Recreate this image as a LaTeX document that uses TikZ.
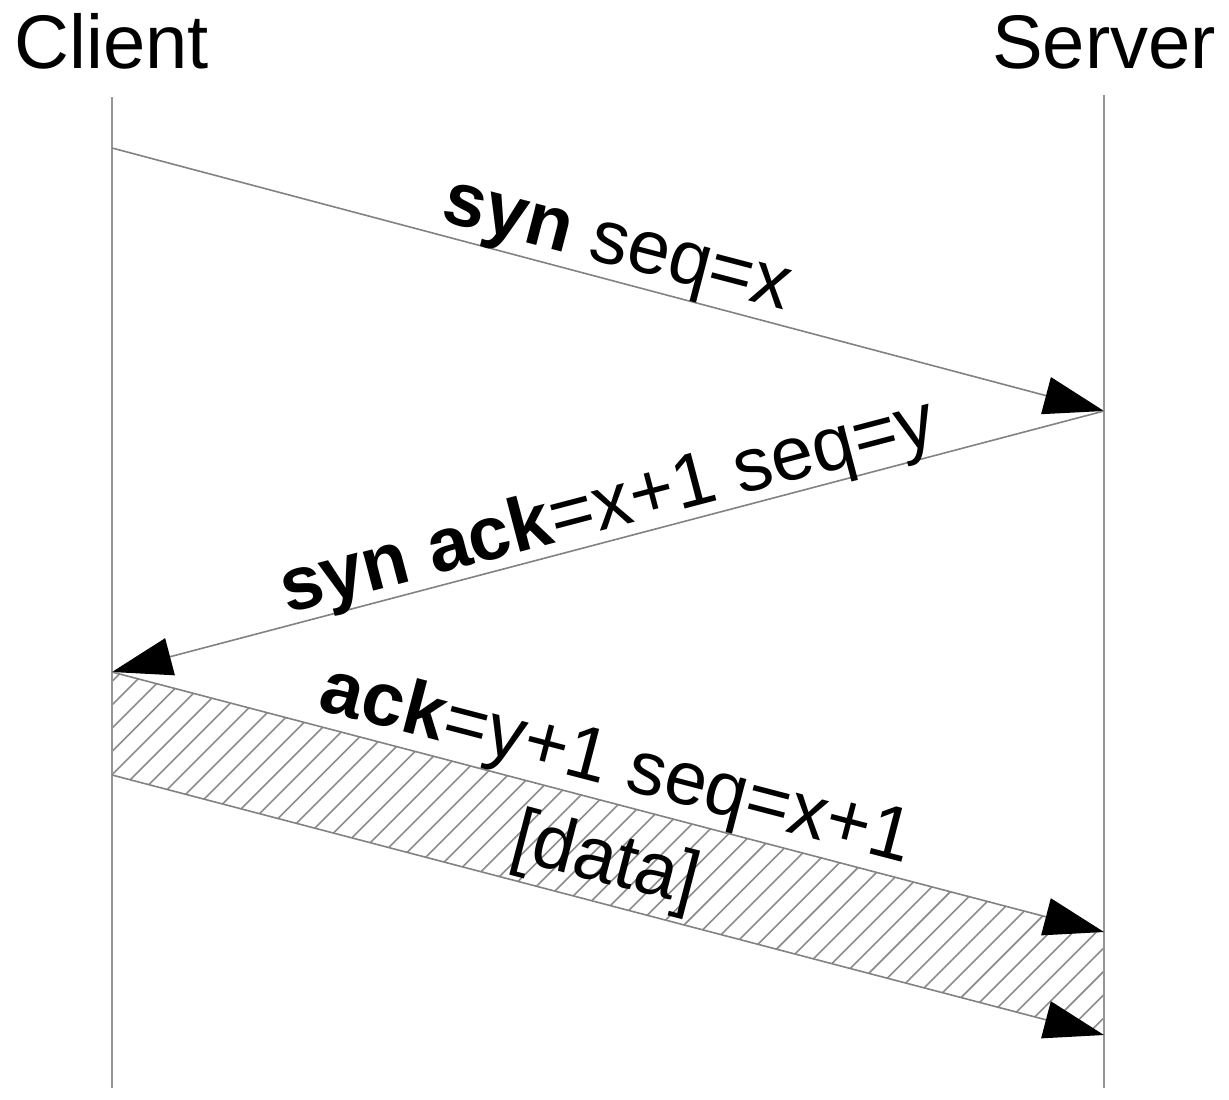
\documentclass[tikz,border=0pt]{standalone}
\usepackage{fontspec}
\setmainfont{Liberation Sans}
\usetikzlibrary{arrows.meta}
\definecolor{msggray}{RGB}{130,130,130}
\definecolor{lifegray}{RGB}{150,150,150}
\definecolor{hatchgray}{RGB}{140,140,140}
\tikzset{
  lifeline/.style={draw=lifegray, line width=2pt},
  msg/.style={draw=msggray, line width=1.6pt,
    -{Triangle[length=60pt,width=38pt,color=black]}},
  title/.style={font=\fontsize{76}{80}\selectfont, inner sep=0pt, anchor=base},
  lbl/.style={font=\fontsize{76}{80}\selectfont, inner sep=0pt, anchor=base},
  hatch/.style={draw=hatchgray, line width=1.6pt},
}
\begin{document}
\begin{tikzpicture}[x=1pt, y=-1pt]
  \useasboundingbox (0,0) rectangle (1229,1100);

  % participants
  \node[title] (client) at (112,68) {Client};
  \node[title] (server) at (1104,68) {Server};

  % lifeline ends
  \coordinate (cTop) at (112,97);
  \coordinate (cBot) at (112,1088);
  \coordinate (sTop) at (1104,95);
  \coordinate (sBot) at (1104,1088);

  % message end points on the lifelines
  \coordinate (c1) at (112,148);
  \coordinate (s1) at (1104,411);
  \coordinate (c2) at (112,672);
  \coordinate (s3) at (1104,932);
  \coordinate (c4) at (112,775);
  \coordinate (s4) at (1104,1035);

  % data segment, hatched
  \begin{scope}
    \clip (c2) -- (s3) -- (s4) -- (c4) -- cycle;
    \foreach \c in {770.3,793.6,...,2180}
      \draw[hatch] (\c,0) -- ({\c-1100},1100);
  \end{scope}

  % lifelines
  \draw[lifeline] (cTop) -- (cBot);
  \draw[lifeline] (sTop) -- (sBot);

  % handshake messages
  \draw[msg] (c1) -- (s1);
  \draw[msg] (s1) -- (c2);
  \draw[msg] (c2) -- (s3);
  \draw[msg] (c4) -- (s4);

  % message labels
  \node[lbl, rotate=-14.6] (l1) at (612,265) {\textbf{syn} seq=x};
  \node[lbl, rotate=14.7] (l2) at (613,528) {\textbf{syn ack}=x+1 seq=y};
  \node[lbl, rotate=-14.6] (l3) at (611,786) {\textbf{ack}=y+1 seq=x+1};
  \node[lbl, rotate=-14.6] (l4) at (600,882) {[data]};
\end{tikzpicture}
\end{document}
